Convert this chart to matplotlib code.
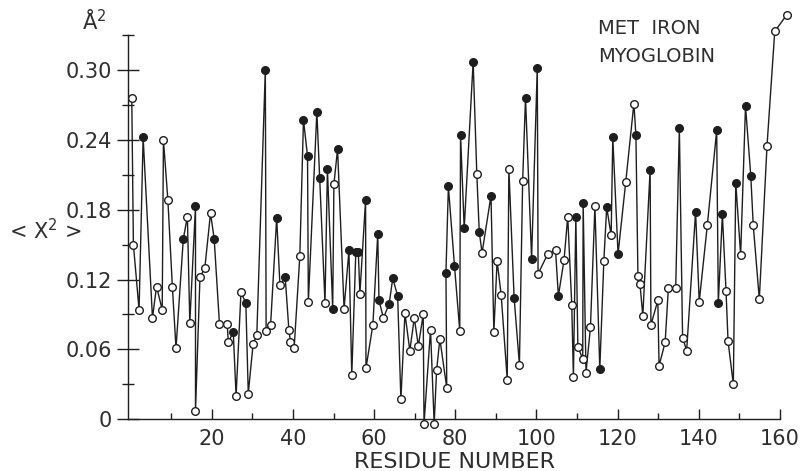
import numpy as np
import matplotlib
matplotlib.use("Agg")
import matplotlib.pyplot as plt

plt.rcParams['font.family'] = ['DejaVu Sans']
plt.rcParams['mathtext.default'] = 'regular'

# residue positions, mean square displacement <x^2> (A^2)
residue = [0.3, 0.7, 2.1, 3.1, 5.4, 6.4, 7.8, 8.1, 9.2, 10.3, 11.2, 13.0, 14.0, 14.6, 16.0, 16.0, 17.1, 18.3, 19.7, 20.6,
           21.9, 23.8, 24.1, 25.3, 26.0, 27.2, 28.4, 29.0, 30.2, 31.1, 33.2, 33.4, 34.5, 36.0, 36.8, 38.1, 39.0, 39.4, 40.3, 41.7,
           42.6, 43.6, 43.8, 45.9, 46.6, 47.9, 48.5, 49.8, 50.1, 51.0, 52.6, 53.8, 54.5, 55.5, 56.1, 56.5, 57.9, 58.0, 59.7, 60.9,
           61.2, 62.3, 63.7, 64.6, 65.8, 66.6, 67.6, 68.8, 69.9, 70.9, 72.1, 72.3, 73.9, 74.8, 75.4, 76.2, 77.9, 77.7, 78.3, 79.8,
           81.1, 81.3, 82.2, 84.4, 85.3, 85.9, 86.6, 88.8, 89.5, 90.3, 91.3, 92.8, 93.2, 94.5, 95.8, 96.6, 97.3, 98.8, 100.2, 100.4,
           102.8, 104.7, 105.4, 106.8, 107.7, 108.7, 109.1, 109.7, 110.2, 111.4, 111.5, 112.2, 113.3, 114.4, 115.6, 116.6, 117.3, 118.4, 118.8, 120.1,
           122.0, 124.0, 124.5, 125.0, 125.5, 126.2, 128.0, 128.2, 129.9, 130.2, 131.7, 132.5, 134.3, 135.2, 136.0, 137.0, 139.2, 140.1, 142.1, 144.4,
           144.8, 145.8, 146.7, 147.2, 148.5, 149.1, 150.3, 151.5, 152.8, 153.4, 154.9, 156.8, 158.7, 161.6]

msd = [0.276, 0.150, 0.094, 0.242, 0.087, 0.114, 0.094, 0.240, 0.188, 0.114, 0.061, 0.155, 0.174, 0.083, 0.183, 0.007, 0.122, 0.130, 0.177, 0.155,
       0.082, 0.082, 0.066, 0.075, 0.020, 0.109, 0.100, 0.022, 0.065, 0.072, 0.300, 0.076, 0.081, 0.173, 0.115, 0.122, 0.077, 0.066, 0.061, 0.140,
       0.257, 0.226, 0.101, 0.264, 0.207, 0.100, 0.215, 0.095, 0.202, 0.232, 0.095, 0.145, 0.038, 0.144, 0.144, 0.108, 0.188, 0.044, 0.081, 0.159,
       0.102, 0.087, 0.099, 0.121, 0.106, 0.017, 0.091, 0.059, 0.087, 0.063, 0.090, -0.004, 0.077, -0.004, 0.042, 0.069, 0.027, 0.126, 0.200, 0.132,
       0.076, 0.244, 0.164, 0.307, 0.211, 0.161, 0.143, 0.192, 0.075, 0.136, 0.107, 0.034, 0.215, 0.104, 0.047, 0.205, 0.276, 0.138, 0.302, 0.125,
       0.142, 0.145, 0.106, 0.137, 0.174, 0.098, 0.036, 0.174, 0.062, 0.052, 0.186, 0.040, 0.079, 0.183, 0.043, 0.136, 0.182, 0.158, 0.242, 0.142,
       0.204, 0.271, 0.244, 0.123, 0.116, 0.089, 0.214, 0.081, 0.102, 0.046, 0.066, 0.113, 0.113, 0.250, 0.070, 0.059, 0.178, 0.101, 0.167, 0.248,
       0.100, 0.176, 0.110, 0.067, 0.030, 0.203, 0.141, 0.269, 0.209, 0.167, 0.103, 0.235, 0.333, 0.347]

# 1 = filled circle, 0 = open circle
filled = [0, 0, 0, 1, 0, 0, 0, 0, 0, 0, 0, 1, 0, 0, 1, 0, 0, 0, 0, 1,
          0, 0, 0, 1, 0, 0, 1, 0, 0, 0, 1, 0, 0, 1, 0, 1, 0, 0, 0, 0,
          1, 1, 0, 1, 1, 0, 1, 1, 0, 1, 0, 1, 0, 1, 1, 0, 1, 0, 0, 1,
          1, 0, 1, 1, 1, 0, 0, 0, 0, 0, 0, 0, 0, 0, 0, 0, 0, 1, 1, 1,
          0, 1, 1, 1, 0, 1, 0, 1, 0, 0, 0, 0, 0, 1, 0, 0, 1, 1, 1, 0,
          0, 0, 1, 0, 0, 0, 0, 1, 0, 0, 1, 0, 0, 0, 1, 0, 1, 0, 1, 1,
          0, 0, 1, 0, 0, 0, 1, 0, 0, 0, 0, 0, 0, 1, 0, 0, 1, 0, 0, 1,
          1, 1, 0, 0, 0, 1, 0, 1, 1, 0, 0, 0, 0, 0]

yticks = [0, 0.06, 0.12, 0.18, 0.24, 0.30]
ytick_labels = ['0', '0.06', '0.12', '0.18', '0.24', '0.30']
xticks = [20, 40, 60, 80, 100, 120, 140, 160]

ink = '#1e1e1e'
txt = '#2e2e2e'

x = np.array(residue)
y = np.array(msd)
f = np.array(filled) == 1

fig = plt.figure(figsize=(8.01, 4.71), dpi=100)
ax = fig.add_axes([0.1602, 0.1098, 0.8136, 0.816])

ax.plot(x, y, '-', color=ink, lw=1.0, clip_on=False, zorder=2)
ax.plot(x[~f], y[~f], 'o', ms=5.5, mfc='white', mec=ink, mew=1.0, clip_on=False, zorder=3)
ax.plot(x[f], y[f], 'o', ms=5.5, mfc=ink, mec=ink, mew=1.0, clip_on=False, zorder=3)

ax.set_xlim(-0.55, 160)
ax.set_ylim(0, 0.33)

for s in ['top', 'right']:
    ax.spines[s].set_visible(False)
for s in ['left', 'bottom']:
    ax.spines[s].set_color(ink)
    ax.spines[s].set_linewidth(1.0)

ax.set_yticks(yticks)
ax.set_yticklabels(ytick_labels)
ax.set_yticks(np.arange(0.03, 0.34, 0.06), minor=True)
ax.set_xticks(xticks)
ax.set_xticks(np.arange(10, 160, 20), minor=True)

ax.tick_params(axis='y', which='major', direction='inout', length=16, width=1,
               color=ink, labelsize=15, labelcolor=txt, pad=4)
ax.tick_params(axis='y', which='minor', direction='inout', length=9, width=1, color=ink)
ax.tick_params(axis='x', which='major', direction='in', length=7, width=1,
               color=ink, labelsize=15, labelcolor=txt, pad=7)
ax.tick_params(axis='x', which='minor', direction='in', length=4.5, width=1, color=ink)

fig.text(0.568, 0.019, 'RESIDUE NUMBER', ha='center', va='center', fontsize=16, color=txt)
fig.text(0.056, 0.51, '< X$^2$ >', ha='center', va='center', fontsize=15, color=txt)
fig.text(0.118, 0.955, 'Å$^2$', ha='center', va='center', fontsize=15, color=txt)
fig.text(0.7466, 0.94, 'MET  IRON', ha='left', va='center', fontsize=14, color=txt)
fig.text(0.7466, 0.879, 'MYOGLOBIN', ha='left', va='center', fontsize=14, color=txt)

fig.savefig('out.png', dpi=100, facecolor='white')
